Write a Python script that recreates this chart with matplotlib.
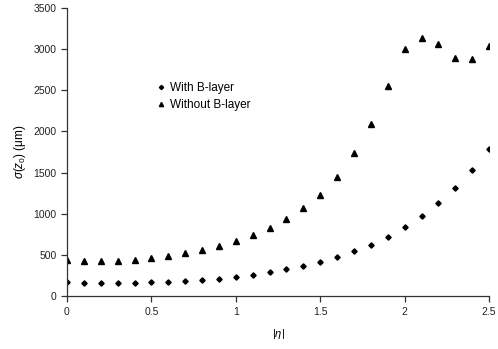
import matplotlib
matplotlib.use("Agg")
import matplotlib.pyplot as plt
import numpy as np

plt.rcParams['font.family'] = ['Liberation Sans', 'DejaVu Sans']
plt.rcParams['mathtext.fontset'] = 'custom'
plt.rcParams['mathtext.rm'] = 'Liberation Sans'
plt.rcParams['mathtext.it'] = 'Liberation Sans:italic'

eta = [0.0, 0.1, 0.2, 0.3, 0.4, 0.5, 0.6, 0.7, 0.8, 0.9, 1.0, 1.1, 1.2,
       1.3, 1.4, 1.5, 1.6, 1.7, 1.8, 1.9, 2.0, 2.1, 2.2, 2.3, 2.4, 2.5]
with_blayer = [170, 158, 154, 154, 162, 166, 174, 182, 198, 211, 231, 251, 288,
               324, 360, 413, 470, 543, 620, 717, 835, 972, 1126, 1308, 1525, 1782]
without_blayer = [435, 425, 425, 430, 440, 460, 485, 520, 558, 607, 668, 741, 826,
                  936, 1069, 1227, 1446, 1738, 2090, 2552, 3001, 3135, 3062, 2892, 2880, 3038]

fig = plt.figure(figsize=(4.98, 3.49), dpi=100)
ax = fig.add_axes([0.1345, 0.152, 0.8475, 0.825])

ax.plot(eta, with_blayer, linestyle='none', marker='D', markersize=2.7,
        color='black', label='With B-layer')
ax.plot(eta, without_blayer, linestyle='none', marker='^', markersize=3.8,
        color='black', label='Without B-layer')

ax.set_xlim(0, 2.5)
ax.set_ylim(0, 3500)
ax.set_xticks(np.arange(0, 2.51, 0.5))
ax.set_xticklabels(['0', '0.5', '1', '1.5', '2', '2.5'])
ax.set_yticks(np.arange(0, 3501, 500))

for s in ['top', 'right']:
    ax.spines[s].set_visible(False)
for s in ['left', 'bottom']:
    ax.spines[s].set_color('#333333')
    ax.spines[s].set_linewidth(0.9)
ax.tick_params(direction='out', length=4, width=0.9, color='#333333',
               labelsize=7.5, colors='#222222')
ax.tick_params(axis='x', pad=4)

ax.set_xlabel(r'$|\eta|$', fontsize=8, labelpad=7)
ax.set_ylabel(r'$\sigma(z_0)$ (μm)', fontsize=8.5)

ax.legend(loc='center left', bbox_to_anchor=(0.183, 0.693), frameon=False,
          fontsize=8.5, handletextpad=0.3, handlelength=1.0, labelspacing=0.45,
          markerscale=0.8)

plt.savefig("out.png", dpi=100)
